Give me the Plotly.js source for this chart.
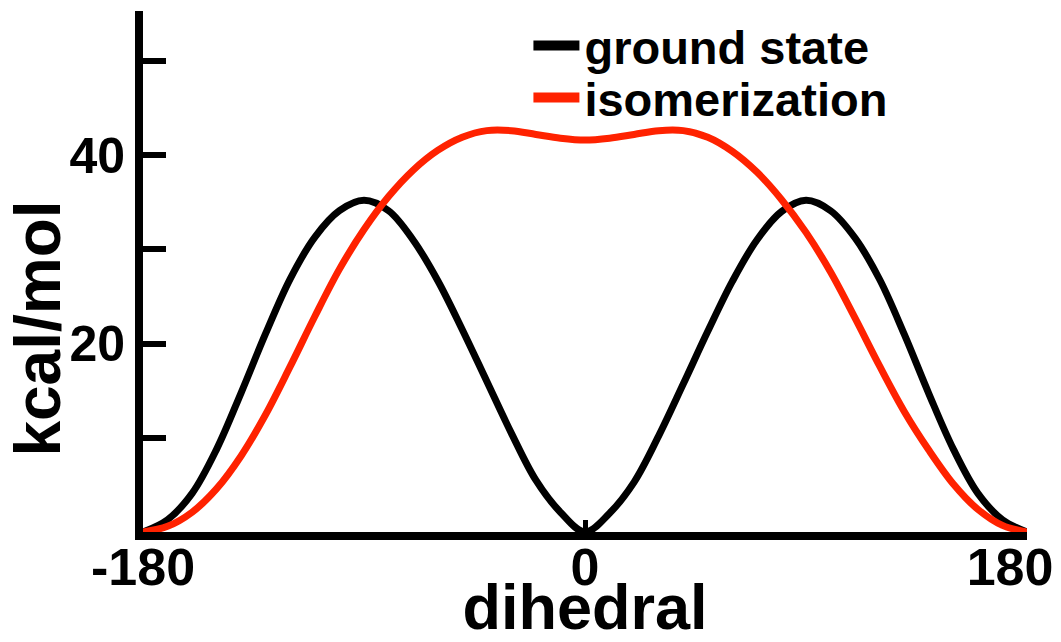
<!DOCTYPE html>
<html>
<head>
<meta charset="utf-8">
<script src="https://cdn.plot.ly/plotly-3.0.1.min.js"></script>
<style>
  html, body { margin: 0; padding: 0; background: #ffffff; }
  #chart { width: 1061px; height: 642px; }
</style>
</head>
<body>
<div id="chart"></div>
<script>
// ---- data ----
const dihedral = [-180,-170,-160,-150,-140,-130,-120,-110,-100,-90,-80,-70,-60,-50,-40,-30,-20,-10,
                  0,10,20,30,40,50,60,70,80,90,100,110,120,130,140,150,160,170,180];
const groundState = [0,1.3,4.1,8.8,14.8,21.1,26.9,31.3,34.1,35.2,34.1,31.0,26.7,21.5,16.0,10.5,5.5,2.1,
                     0,2.0,5.3,10.2,15.7,21.3,26.6,31.0,34.0,35.2,34.1,31.2,26.8,21.0,14.7,8.8,4.1,1.3,0];
const isomerization = [0,0.6,2.1,4.6,8.1,12.5,17.6,22.9,27.9,32.1,35.6,38.4,40.5,41.9,42.6,42.6,42.2,41.8,
                       41.6,41.8,42.2,42.6,42.6,41.9,40.4,38.2,35.3,31.8,27.6,22.7,17.6,12.8,8.7,5.1,2.4,0.7,0];
const seriesNames = ['ground state', 'isomerization'];
const xTickVals = [-180, 0, 180];
const xTickText = ['-180', '0', '180'];
const yTickVals = [10, 20, 30, 40, 50];
const yTickText = ['', '20', '', '40', ''];
const xTitle = 'dihedral';
const yTitle = 'kcal/mol';

// ---- styles ----
const FONT = 'Liberation Sans, Arial, Helvetica, sans-serif';
const BLACK = '#000000';
const RED = '#ff2200';
const xTickFont = { family: FONT, size: 52, color: BLACK, weight: 'bold' };
const yTickFont = { family: FONT, size: 50, color: BLACK, weight: 'bold' };
const legendFont = { family: FONT, size: 47, color: BLACK, weight: 'bold' };

const traces = [
  { x: dihedral, y: groundState, type: 'scatter', mode: 'lines', name: seriesNames[0],
    line: { color: BLACK, width: 7, shape: 'spline', smoothing: 1 }, showlegend: false },
  { x: dihedral, y: isomerization, type: 'scatter', mode: 'lines', name: seriesNames[1],
    line: { color: RED, width: 7, shape: 'spline', smoothing: 1 }, showlegend: false },
  // legend entries (no points); they also anchor the overlay axes that carry the 0 tick and the 180 label
  { x: [null], y: [null], xaxis: 'x2', type: 'scatter', mode: 'lines', name: seriesNames[0], legend: 'legend',
    line: { color: BLACK, width: 15 }, showlegend: true, hoverinfo: 'skip' },
  { x: [null], y: [null], xaxis: 'x3', type: 'scatter', mode: 'lines', name: seriesNames[1], legend: 'legend2',
    line: { color: RED, width: 15 }, showlegend: true, hoverinfo: 'skip' }
];

const legendBase = {
  xanchor: 'left', yanchor: 'middle',
  bgcolor: 'rgba(0,0,0,0)', borderwidth: 0,
  itemwidth: 46, font: legendFont
};

const baseLine = { showline: true, linecolor: BLACK, linewidth: 8, showgrid: false, zeroline: false,
                   fixedrange: true, automargin: false };

const layout = {
  width: 1061, height: 642,
  margin: { l: 143, r: 34, t: 11, b: 110, pad: 0, autoexpand: false },
  paper_bgcolor: '#ffffff', plot_bgcolor: '#ffffff',
  font: { family: FONT, color: BLACK, weight: 'bold' },
  showlegend: true,
  xaxis: Object.assign({}, baseLine, {
    range: [-180, 180],
    tickmode: 'array', tickvals: xTickVals.slice(0, 2), ticktext: xTickText.slice(0, 2),
    ticks: '', ticklabeloverflow: 'allow', ticklabelstandoff: -17,
    tickfont: xTickFont,
    title: { text: xTitle, standoff: 15, font: { family: FONT, size: 63, color: BLACK, weight: 'bold' } }
  }),
  xaxis2: Object.assign({}, baseLine, {
    overlaying: 'x', anchor: 'y', side: 'bottom', range: [-180, 180],
    tickmode: 'array', tickvals: [xTickVals[1]], ticks: 'inside', ticklen: 12, tickwidth: 5, tickcolor: BLACK,
    showticklabels: false
  }),
  xaxis3: Object.assign({}, baseLine, {
    overlaying: 'x', anchor: 'y', side: 'bottom', range: [-180, 180],
    tickmode: 'array', tickvals: [xTickVals[2]], ticktext: [xTickText[2]], ticks: '',
    ticklabeloverflow: 'allow', ticklabelstandoff: -17, ticklabelshift: -17,
    tickfont: xTickFont
  }),
  yaxis: Object.assign({}, baseLine, {
    range: [0, 55.3],
    tickmode: 'array', tickvals: yTickVals, ticktext: yTickText,
    ticks: 'inside', ticklen: 23, tickwidth: 6, tickcolor: BLACK,
    ticklabelstandoff: 0,
    tickfont: yTickFont
  }),
  legend: Object.assign({}, legendBase, { x: 0.436, y: 0.933 }),
  legend2: Object.assign({}, legendBase, { x: 0.436, y: 0.833 }),
  annotations: [{
    text: yTitle, textangle: -90, showarrow: false,
    xref: 'paper', yref: 'paper', x: -0.119, y: 0.39, xanchor: 'center', yanchor: 'middle',
    font: { family: FONT, size: 64, color: BLACK, weight: 'bold' }
  }]
};

Plotly.newPlot('chart', traces, layout, { displayModeBar: false, staticPlot: true });
</script>
</body>
</html>
